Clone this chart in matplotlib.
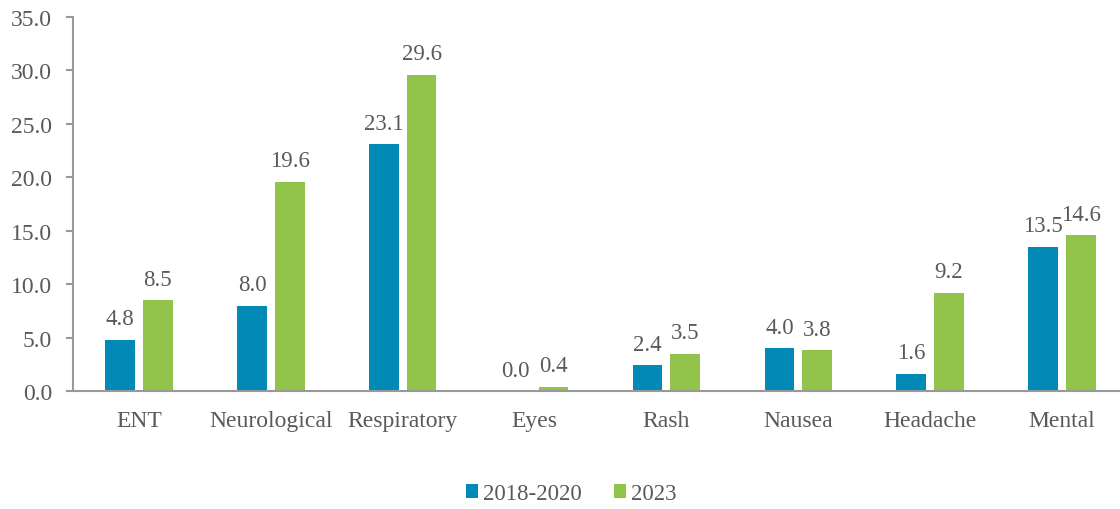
import matplotlib
matplotlib.use("Agg")
import matplotlib.pyplot as plt
from matplotlib import font_manager
import numpy as np

categories = ["ENT", "Neurological", "Respiratory", "Eyes", "Rash", "Nausea", "Headache", "Mental"]
series_names = ["2018-2020", "2023"]
values_2018_2020 = [4.8, 8.0, 23.1, 0.0, 2.4, 4.0, 1.6, 13.5]
values_2023 = [8.5, 19.6, 29.6, 0.4, 3.5, 3.8, 9.2, 14.6]
y_ticks = [0, 5, 10, 15, 20, 25, 30, 35]

blue = "#008AB5"
green = "#92C34B"
text_color = "#595959"
axis_color = "#999999"

names = {f.name for f in font_manager.fontManager.ttflist}
serif = [n for n in ("Liberation Serif", "Times New Roman", "DejaVu Serif") if n in names]
plt.rcParams["font.family"] = "serif"
plt.rcParams["font.serif"] = serif

FS = 17

W, H = 1120, 510
fig = plt.figure(figsize=(W / 100, H / 100), dpi=100)
left, right, bottom, top = 73, 1128, 392, 18
ax = fig.add_axes([left / W, 1 - bottom / H, (right - left) / W, (bottom - top) / H])

x = np.arange(len(categories))
width = 0.225
offset = 0.143
b1 = ax.bar(x - offset, values_2018_2020, width, color=blue, label=series_names[0])
b2 = ax.bar(x + offset, values_2023, width, color=green, label=series_names[1])

for bars, vals in ((b1, values_2018_2020), (b2, values_2023)):
    for rect, v in zip(bars, vals):
        ax.annotate(f"{v:.1f}", (rect.get_x() + rect.get_width() / 2, v),
                    xytext=(0, 7.5), textcoords="offset points",
                    ha="center", va="bottom", fontsize=16.5, color=text_color)

ax.set_xlim(-0.5, len(categories) - 0.5)
ax.set_ylim(0, 35)
ax.set_yticks(y_ticks)
ax.set_yticklabels([f"{t:.1f}" for t in y_ticks])
ax.set_xticks(x)
ax.set_xticklabels(categories)

for side in ("top", "right"):
    ax.spines[side].set_visible(False)
for side in ("left", "bottom"):
    ax.spines[side].set_color(axis_color)
    ax.spines[side].set_linewidth(1.5)

ax.tick_params(axis="y", direction="out", length=5, width=1.5, color=axis_color,
               labelsize=FS, labelcolor=text_color, pad=10)
ax.tick_params(axis="x", length=0, labelsize=FS, labelcolor=text_color, pad=14)

leg = fig.legend(handles=[b1, b2], labels=series_names, loc="center",
                 bbox_to_anchor=(571 / W, 1 - 495 / H), ncol=2, frameon=False,
                 fontsize=16.5, handlelength=0.55, handleheight=0.55,
                 handletextpad=0.2, columnspacing=1.4, labelcolor=text_color)

fig.savefig("out.png", dpi=100)
